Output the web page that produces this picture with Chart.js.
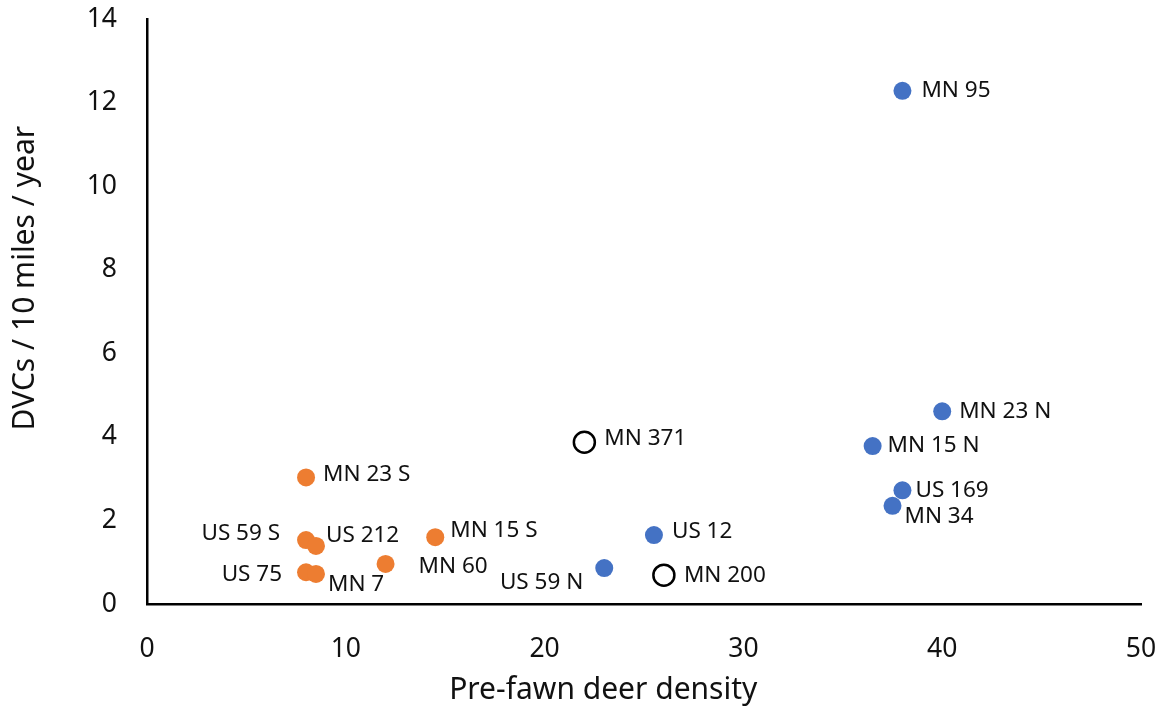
<!DOCTYPE html>
<html>
<head>
<meta charset="utf-8">
<script src="https://cdn.jsdelivr.net/npm/chart.js@4"></script>
<style>
  body { margin: 0; background: #fff; }
  #wrap { width: 1167px; height: 711px; }
</style>
</head>
<body>
<div id="wrap"><canvas id="graph" width="1167" height="711"></canvas></div>
<script>
// north roads (blue)
const northNames = ['MN 95', 'MN 23 N', 'MN 15 N', 'US 169', 'MN 34', 'US 12', 'US 59 N']
const northX = [38, 40, 36.5, 38, 37.5, 25.5, 23]
const northY = [12.28, 4.61, 3.78, 2.72, 2.35, 1.65, 0.86]

// south roads (orange)
const southNames = ['MN 23 S', 'US 59 S', 'US 212', 'MN 15 S', 'MN 60', 'US 75', 'MN 7']
const southX = [8, 8, 8.5, 14.5, 12, 8, 8.5]
const southY = [3.03, 1.53, 1.39, 1.6, 0.96, 0.76, 0.72]

// other roads (open circles)
const otherNames = ['MN 371', 'MN 200']
const otherX = [22, 26]
const otherY = [3.87, 0.69]

const xTicks = [0, 10, 20, 30, 40, 50]
const yTicks = [0, 2, 4, 6, 8, 10, 12, 14]

const xTitle = 'Pre-fawn deer density'
const yTitle = 'DVCs / 10 miles / year'

// where each label sits from its point [dx, dy, align]
const labelOffsets = {
    'MN 95': [19, 0, 'left'], 'MN 23 N': [17, 0, 'left'], 'MN 15 N': [15, 0, 'left'],
    'US 169': [13, 0, 'left'], 'MN 34': [12, 11, 'left'], 'US 12': [18, -3, 'left'],
    'US 59 N': [-21, 15, 'right'], 'MN 371': [20, -4, 'left'], 'MN 200': [20, 0, 'left'],
    'MN 23 S': [17, -3, 'left'], 'US 59 S': [-26, -6, 'right'], 'US 212': [10, -10, 'left'],
    'MN 15 S': [15, -7, 'left'], 'MN 60': [33, 3, 'left'], 'US 75': [-24, 2, 'right'],
    'MN 7': [12, 11, 'left']
}

function toPoints(xs, ys){
    let pts = []
    for(let i = 0; i < xs.length; i++){
        pts.push({ x: xs[i], y: ys[i] })
    }
    return pts
}

const FONT = "'Noto Sans', sans-serif"

const pointLabels = {
    id: 'pointLabels',
    afterDatasetsDraw(chart){
        const ctx = chart.ctx
        ctx.save()
        ctx.font = '22.5px ' + FONT
        ctx.fillStyle = '#111'
        ctx.textBaseline = 'middle'
        chart.data.datasets.forEach((ds, i) => {
            const meta = chart.getDatasetMeta(i)
            meta.data.forEach((el, j) => {
                const name = ds.names[j]
                const off = labelOffsets[name] || [15, 0, 'left']
                ctx.textAlign = off[2]
                ctx.fillText(name, el.x + off[0], el.y + off[1])
            })
        })
        ctx.restore()
    }
}

// axis titles, placed like in the original (a bit left / up of centre)
const axisTitles = {
    id: 'axisTitles',
    afterDraw(chart){
        const ctx = chart.ctx
        const area = chart.chartArea
        ctx.save()
        ctx.font = '30px ' + FONT
        ctx.fillStyle = '#111'
        ctx.textAlign = 'center'
        ctx.textBaseline = 'middle'
        ctx.fillText(xTitle, area.left + (area.right - area.left) * 0.459, 690)
        ctx.translate(25, area.top + (area.bottom - area.top) * 0.443)
        ctx.rotate(-Math.PI / 2)
        ctx.fillText(yTitle, 0, 0)
        ctx.restore()
    }
}

const ctx = document.getElementById('graph').getContext('2d')
new Chart(ctx, {
    type: 'scatter',
    data: {
        datasets: [
            {
                names: southNames,
                data: toPoints(southX, southY),
                backgroundColor: '#ED7D31',
                borderColor: '#ED7D31',
                pointRadius: 9,
                borderWidth: 0
            },
            {
                names: northNames,
                data: toPoints(northX, northY),
                backgroundColor: '#4472C4',
                borderColor: '#4472C4',
                pointRadius: 9,
                borderWidth: 0
            },
            {
                names: otherNames,
                data: toPoints(otherX, otherY),
                backgroundColor: '#fff',
                borderColor: '#000',
                pointRadius: 10.5,
                borderWidth: 2.5
            }
        ]
    },
    options: {
        responsive: false,
        animation: false,
        layout: { padding: 0 },
        plugins: { legend: { display: false }, tooltip: { enabled: false } },
        scales: {
            x: {
                type: 'linear',
                min: 0, max: 50,
                afterBuildTicks: axis => { axis.ticks = xTicks.map(v => ({ value: v })) },
                afterFit: axis => {
                    axis.height = 107
                    axis.paddingLeft = 0
                    axis.paddingRight = 26
                },
                grid: { display: false, drawTicks: false },
                border: { display: true, color: '#000', width: 2.5 },
                ticks: { color: '#111', padding: 30, font: { family: FONT, size: 26.5 } }
            },
            y: {
                type: 'linear',
                min: 0, max: 14,
                afterBuildTicks: axis => { axis.ticks = yTicks.map(v => ({ value: v })) },
                afterFit: axis => {
                    axis.width = 147
                    axis.paddingTop = 19
                    axis.paddingBottom = 0
                },
                grid: { display: false, drawTicks: false },
                border: { display: true, color: '#000', width: 2.5 },
                ticks: { color: '#111', padding: 30, font: { family: FONT, size: 26.5, lineHeight: 1 } }
            }
        }
    },
    plugins: [pointLabels, axisTitles]
})
</script>
</body>
</html>
